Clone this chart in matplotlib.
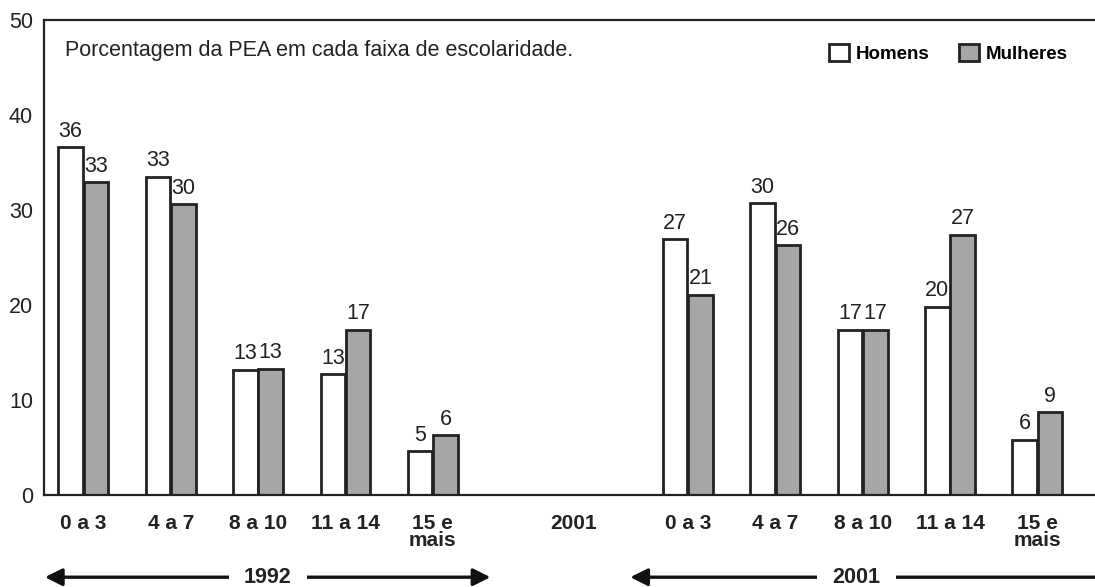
import numpy as np
import matplotlib
matplotlib.use('Agg')
import matplotlib.pyplot as plt

plt.rcParams['font.family'] = ['Liberation Sans', 'DejaVu Sans']

# data
faixas = ['0 a 3', '4 a 7', '8 a 10', '11 a 14', '15 e\nmais']
homens_1992 = [36.6, 33.5, 13.2, 12.7, 4.6]
mulheres_1992 = [32.9, 30.6, 13.3, 17.4, 6.3]
homens_2001 = [26.9, 30.7, 17.4, 19.8, 5.8]
mulheres_2001 = [21.1, 26.3, 17.4, 27.4, 8.7]
rot_h_1992 = ['36', '33', '13', '13', '5']
rot_m_1992 = ['33', '30', '13', '17', '6']
rot_h_2001 = ['27', '30', '17', '20', '6']
rot_m_2001 = ['21', '26', '17', '27', '9']

# x positions (1992 block, odd "2001" tick, 2001 block)
x92 = np.arange(5)
x01 = np.arange(5) + 6.92
x_mid = 5.61

w = 0.28
off = 0.145
edge = '#222222'
cinza = '#a6a6a6'

fig = plt.figure(figsize=(10.95, 5.87), dpi=100)
ax = fig.add_axes([0.0402, 0.1567, 0.9598, 0.8093])

bh = ax.bar(np.r_[x92, x01] - off, homens_1992 + homens_2001, w,
            color='white', edgecolor=edge, linewidth=2, label='Homens')
bm = ax.bar(np.r_[x92, x01] + off, mulheres_1992 + mulheres_2001, w,
            color=cinza, edgecolor=edge, linewidth=2, label='Mulheres')

labels = rot_h_1992 + rot_h_2001 + rot_m_1992 + rot_m_2001
for rect, lab in zip(list(bh) + list(bm), labels):
    ax.annotate(lab, (rect.get_x() + rect.get_width() / 2, rect.get_height()),
                xytext=(0, 4), textcoords='offset points',
                ha='center', va='bottom', fontsize=15.5, color='#222222')

ax.set_xlim(-0.45, 11.58)
ax.set_ylim(0, 50)
ax.set_yticks([0, 10, 20, 30, 40, 50])
ax.set_xticks(list(x92) + [x_mid] + list(x01))
ax.set_xticklabels(faixas + ['2001'] + faixas, fontsize=15,
                   fontweight='bold', linespacing=0.85, color='#222222')
ax.tick_params(axis='x', length=0, pad=14)
ax.tick_params(axis='y', length=0, pad=8, labelsize=15.5, labelcolor='#222222')
for s in ['left', 'top', 'bottom']:
    ax.spines[s].set_linewidth(1.6)
    ax.spines[s].set_color('#222222')
ax.spines['right'].set_visible(False)

ax.text(0.02, 0.935, 'Porcentagem da PEA em cada faixa de escolaridade.',
        transform=ax.transAxes, fontsize=15.5, va='center', color='#222222')

ax.legend(handles=[bh, bm], loc='upper right', bbox_to_anchor=(0.99, 0.985),
          ncol=2, frameon=False, handlelength=1.05, handleheight=1.05,
          handletextpad=0.35, columnspacing=1.6,
          prop={'weight': 'bold', 'size': 13.5})

# period arrows under the axis
y_arr = -0.173
for x0, x1, xt, txt in [(-0.44, 4.66, 2.11, '1992'), (6.26, 11.9, 8.85, '2001')]:
    ax.annotate('', xy=(x0, y_arr), xytext=(x1, y_arr),
                xycoords=('data', 'axes fraction'),
                textcoords=('data', 'axes fraction'),
                arrowprops=dict(arrowstyle='<|-|>', lw=2.4, color='#111111',
                                mutation_scale=26, shrinkA=0, shrinkB=0),
                annotation_clip=False)
    ax.text(xt, y_arr, txt, transform=ax.get_xaxis_transform(),
            ha='center', va='center', fontsize=15.5, fontweight='bold',
            color='#222222',
            bbox=dict(facecolor='white', edgecolor='none', pad=11))

fig.savefig('out.png', dpi=100)
